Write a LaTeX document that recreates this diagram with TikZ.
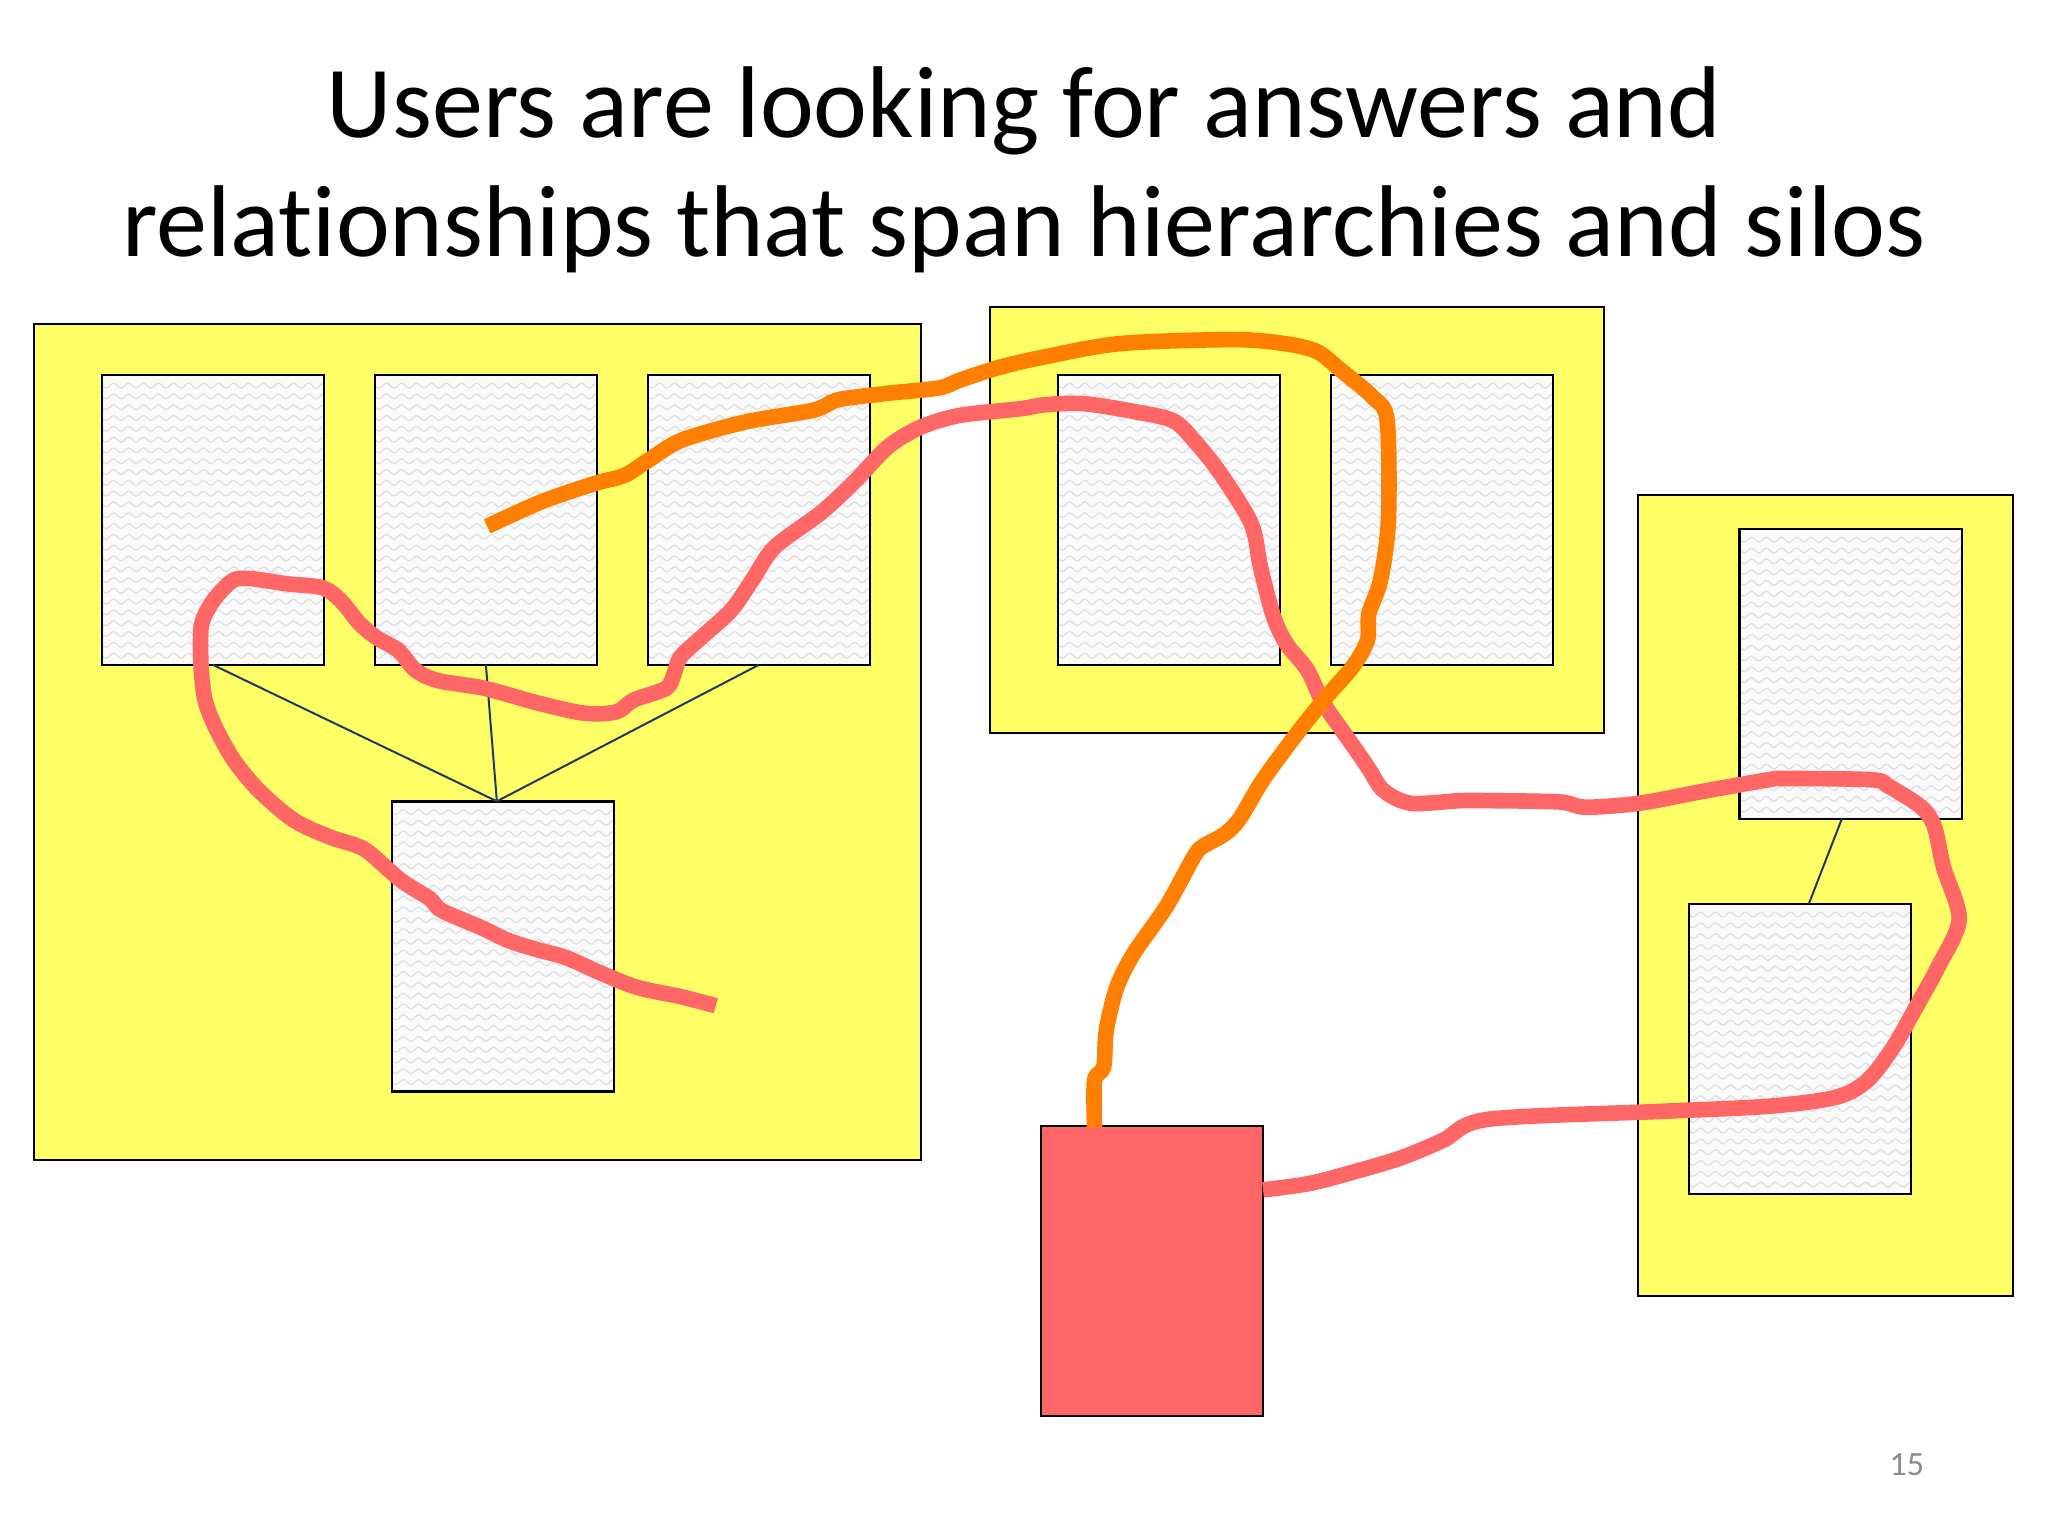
\documentclass[tikz,border=0pt]{standalone}
\usepackage{fontspec}
\setmainfont{Carlito}[Ligatures={NoCommon}]
\usetikzlibrary{decorations.pathmorphing}

\definecolor{siloyellow}{HTML}{FFFF66}
\definecolor{docgrey}{HTML}{FAFAFA}
\definecolor{wavegrey}{HTML}{DEDEDE}
\definecolor{linkblue}{HTML}{1F3A5F}
\definecolor{trailred}{HTML}{FF6666}
\definecolor{trailorange}{HTML}{FF8000}
\definecolor{pagegrey}{HTML}{8C8C8C}

\tikzset{
	silo/.style={draw=black, fill=siloyellow, line width=1.1pt},
	wave/.style={draw=wavegrey, line width=0.6pt, decorate,
		decoration={snake, segment length=7.5pt, amplitude=1.2pt}},
	doc/.style={draw=black, fill=docgrey, line width=1.3pt, inner sep=0pt, outer sep=0pt,
		minimum width=111pt, minimum height=145pt,
		path picture={
			\foreach \k in {1,...,27}
				\draw[wave] ([xshift=-4pt,yshift=-\k*5.4pt]path picture bounding box.north west)
					-- ([xshift=4pt,yshift=-\k*5.4pt]path picture bounding box.north east);
		}},
	answer/.style={draw=black, fill=trailred, line width=1.3pt, inner sep=0pt, outer sep=0pt,
		minimum width=111pt, minimum height=145pt},
	link/.style={draw=linkblue, line width=1pt},
	trail/.style={line width=7.8pt, line join=round, smooth, tension=0.5},
}

\begin{document}
\begin{tikzpicture}[x=0.653pt, y=-0.653pt]
	\useasboundingbox[fill=white] (0,0) rectangle (1568,1176);

			% title
			\node (t1) at (784,105) [anchor=base, font=\fontsize{51}{61}\selectfont] {Users are looking for answers and};
			\node (t2) at (784,196) [anchor=base, font=\fontsize{51}{61}\selectfont] {relationships that span hierarchies and silos};

			% silos
			\draw[silo] (26,248) rectangle (705,888);
			\draw[silo] (758,235) rectangle (1228,561);
			\draw[silo] (1254,379) rectangle (1541,992);

			% documents
			\node	(l1) at (163,398) [doc] {};
			\node	(l2) at (372,398) [doc] {};
			\node	(l3) at (581,398) [doc] {};
			\node	(l4) at (385,724.5) [doc] {};
			\node	(m1) at (895,398) [doc] {};
			\node	(m2) at (1104,398) [doc] {};
			\node	(r1) at (1417,516) [doc] {};
			\node	(r2) at (1378,803) [doc] {};
			\node	(goal) at (882,973) [answer] {};

			\draw[link]
			(l1.south) -- ([xshift=-3pt]l4.north)
			(l2.south) -- ([xshift=-3pt]l4.north)
			(l3.south) -- ([xshift=-3pt]l4.north)
			([xshift=-4.5pt]r1.south) -- ([xshift=4.5pt]r2.north)
			;

			% red trail
			\draw[trail, trailred] plot coordinates {
				(548,770) (521,763) (488,756) (460,745) (433,733) (411,727) (389,720) (368,710)
				(338,697) (329,688) (307,674) (283,653) (272,647) (253,641) (225,628) (198,605)
				(179,582) (165,557) (157,536) (154,511) (154,480) (160,465) (168,454) (179,444)
				(192,443) (220,447) (247,450) (261,460) (275,477) (288,488) (305,498) (318,513)
				(335,521) (371,527) (411,538) (447,546) (472,545) (485,536) (510,527) (516,516)
				(521,503) (537,488) (560,467) (576,444) (593,419) (628,393) (653,370) (680,342)
				(705,327) (735,318) (781,313) (799,310) (829,309) (868,315) (898,322) (914,337)
				(934,362) (958,401) (965,434) (975,472) (985,493) (1001,513) (1013,538) (1031,564)
				(1047,587) (1059,605) (1080,615) (1118,613) (1142,613) (1194,614) (1214,618) (1255,615)
				(1303,606) (1354,597) (1365,596) (1433,597) (1446,602) (1471,618) (1481,633) (1488,664)
				(1500,704) (1484,740) (1467,771) (1450,801) (1430,827) (1406,840) (1354,847) (1269,851)
				(1139,857) (1105,873) (1074,886) (1041,896) (1003,906) (967,911)
			};

			% orange trail
			\draw[trail, trailorange] plot coordinates {
				(373,403) (415,384) (456,370) (478,364) (497,352) (522,337) (571,323) (623,314)
				(642,306) (681,301) (719,297) (735,291) (766,281) (801,273) (858,263) (944,260)
				(983,263) (1008,269) (1026,283) (1051,304) (1062,322) (1063,398) (1057,444) (1048,470)
				(1047,490) (1036,510) (1016,533) (995,559) (967,597) (949,627) (937,639) (921,648)
				(914,656) (893,694) (868,730) (855,756) (847,789) (845,817) (838,827) (838,863)
			};

			% slide number
			\node (num) at (1460,1130) [anchor=base, text=pagegrey, font=\fontsize{17}{20}\selectfont] {15};
\end{tikzpicture}
\end{document}
